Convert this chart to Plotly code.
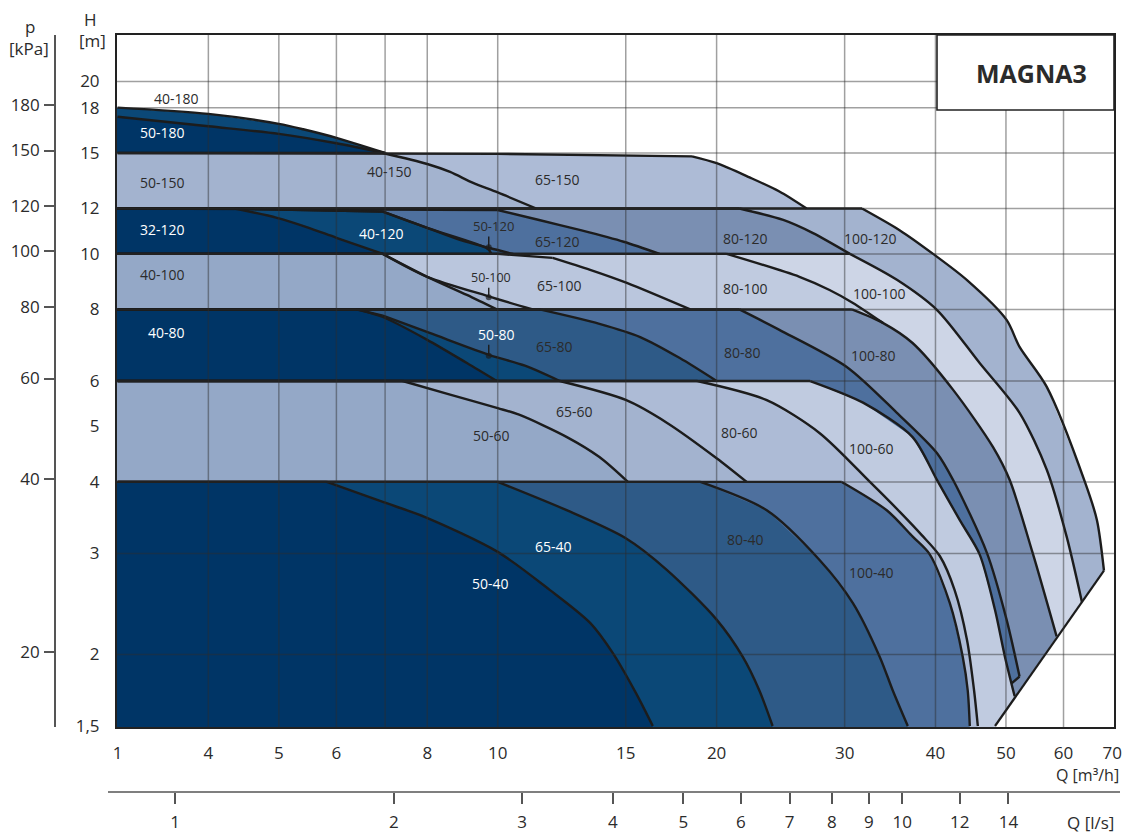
import math
import plotly.graph_objects as go

# ---------------- pump maximum curves: Q [m3/h], H [m] ----------------
Q_40_180 = [3, 4.0, 5.0, 5.4, 6.0, 7.0]
H_40_180 = [18, 17.55, 16.86, 16.5, 15.94, 15]
Q_50_180 = [3, 4.0, 5.0, 6.0, 7.0]
H_50_180 = [17.35, 16.7, 16.2, 15.6, 15]

Q_50_150 = [3, 6.95, 8.0, 8.6, 9.25, 10.0, 11.3]
H_50_150 = [15, 15, 14.35, 13.9, 13.3, 12.8, 12]
Q_65_150 = [3, 10, 18.5, 20, 22.2, 24.4, 26.6]
H_65_150 = [15, 14.95, 14.8, 14.4, 13.6, 12.85, 12]

Q_32_120 = [3, 4.35, 4.97, 5.46, 6.0, 6.95]
H_32_120 = [12, 12, 11.56, 11.14, 10.67, 10]
Q_40_120 = [3, 4.35, 6.95, 8.0, 9.7, 9.8]
H_40_120 = [12, 12, 11.85, 11.1, 10.2, 10]
Q_50_120 = [3, 4.35, 6.95, 8.0, 8.87, 9.75, 10.5]
H_50_120 = [12, 12, 11.85, 11.1, 10.58, 10.24, 10]
Q_65_120 = [3, 10, 11.4, 13.0, 14.9, 16.7]
H_65_120 = [12, 11.93, 11.46, 11.0, 10.5, 10]
Q_80_120 = [3, 21.5, 24.7, 27.1, 30.5]
H_80_120 = [12, 12, 11.46, 10.88, 10]
Q_100_120 = [3, 31.7, 35.7, 39.7, 44.2, 50.1, 52.2, 56.9, 64.2, 66.7, 68.2]
H_100_120 = [12, 12, 11.0, 10, 9.0, 7.67, 6.88, 5.86, 4, 3.43, 2.8]

Q_40_100 = [3, 6.95, 8.0, 9.07, 9.97]
H_40_100 = [10, 10, 9.12, 8.48, 8]
Q_50_100 = [3, 6.95, 8.0, 9.69, 11.17]
H_50_100 = [10, 10, 9.12, 8.44, 8]
Q_65_100 = [3, 10, 11.9, 13.4, 15.05, 18.4]
H_65_100 = [10, 10, 9.84, 9.38, 8.9, 8]
Q_80_100 = [3, 20.65, 26.0, 28.6, 30.8, 33.85]
H_80_100 = [10, 10, 9.12, 8.65, 8.21, 7.58]
Q_100_100 = [3, 30.5, 35.4, 40.2, 46.0, 52.2, 56.9, 60.6, 63.6]
H_100_100 = [10, 10, 9.01, 7.98, 6.45, 5.28, 4.2, 3.21, 2.47]

Q_40_80 = [3, 6.4, 6.95, 8.0, 9.07, 9.97]
H_40_80 = [8, 8, 7.76, 7.08, 6.45, 6]
Q_50_80 = [3, 6.4, 6.95, 8.06, 9.75, 10.9, 12.17]
H_50_80 = [8, 8, 7.8, 7.28, 6.66, 6.38, 6]
Q_65_80 = [3, 11.42, 13.8, 15.7, 17.8, 20]
H_65_80 = [8, 8, 7.55, 7.16, 6.58, 6]
Q_80_80 = [3, 21.5, 24.4, 30.2, 35.4, 40.2, 42.3, 47.06, 50.1, 52.2, 50.9]
H_80_80 = [8, 8, 7.37, 6.35, 5.28, 4.49, 4.03, 3.01, 2.30, 1.83, 1.78]
Q_100_80 = [3, 30.7, 33.85, 37.2, 42.3, 48.0, 50.6, 54.4, 58.7]
H_100_80 = [8, 8, 7.58, 6.99, 5.79, 4.6, 4.03, 3.01, 2.15]

Q_50_60 = [3, 7.4, 8.6, 10, 10.7, 12.45, 13.8, 15.1]
H_50_60 = [6, 6, 5.68, 5.38, 5.24, 4.79, 4.42, 4]
Q_65_60 = [3, 12.17, 15, 17.1, 20, 22]
H_65_60 = [6, 6, 5.56, 5.07, 4.4, 4]
Q_80_60 = [3, 18.8, 23.4, 27.7, 32.5, 35.7, 38.3, 40.55, 42.5, 44.2, 45.2, 45.74]
H_80_60 = [6, 6, 5.56, 4.87, 4, 3.55, 3.23, 2.97, 2.59, 2.12, 1.73, 1.5]
Q_100_60 = [3, 26.9, 31.8, 37.2, 40.2, 43.2, 46.0, 48.3, 49.8, 51.4]
H_100_60 = [6, 6, 5.5, 4.79, 4.03, 3.43, 2.99, 2.39, 1.99, 1.69]

Q_50_40 = [3, 5.82, 6.95, 7.96, 10, 11.8, 13.4, 14.4, 15.5, 16.34]
H_50_40 = [4, 4, 3.69, 3.47, 3.02, 2.59, 2.27, 2.01, 1.71, 1.5]
Q_65_40 = [3, 10, 12.44, 15, 17.08, 20, 21.73, 22.9, 23.88]
H_65_40 = [4, 4, 3.57, 3.19, 2.81, 2.30, 1.98, 1.73, 1.5]
Q_80_40 = [3, 19, 23.44, 27.73, 30.78, 33.53, 34.94, 36.64]
H_80_40 = [4, 4, 3.57, 2.92, 2.46, 1.98, 1.73, 1.5]
Q_100_40 = [3, 29.73, 34.28, 37.22, 39.28, 41.85, 43.61, 44.3, 44.59]
H_100_40 = [4, 4, 3.57, 3.21, 2.99, 2.46, 1.98, 1.73, 1.5]

# lower-right limit line
DIAG_Q = [68.2, 48.3]
DIAG_H = [2.8, 1.5]

# axes values
Q_TICKS = [3, 4, 5, 6, 8, 10, 15, 20, 30, 40, 50, 60, 70]
Q_TICK_TEXT = ["1", "4", "5", "6", "8", "10", "15", "20", "30", "40", "50", "60", "70"]
Q_GRID = [4, 5, 6, 7, 8, 10, 15, 20, 30, 40, 50, 60]
H_TICKS = [1.5, 2, 3, 4, 5, 6, 8, 10, 12, 15, 18, 20]
H_TICK_TEXT = ["1,5", "2", "3", "4", "5", "6", "8", "10", "12", "15", "18", "20"]
H_GRID = [2, 3, 4, 6, 8, 10, 12, 15, 18, 20]
P_TICKS = [20, 40, 60, 80, 100, 120, 150, 180]
LS_TICKS = [1, 2, 3, 4, 5, 6, 7, 8, 9, 10, 12, 14]
Q_RANGE = [2.995, 70.4]
H_RANGE = [1.494, 24.1]
KPA_PER_M = 9.9
M3H_PER_LS = 3.6

# ---------------- styling / draw order (back to front) ----------------
C1, C2, C3, C4 = "#003566", "#0b4877", "#2e5a87", "#4e709e"
C5, C6, C7, C8, C9, C10, C11 = "#7a8fb2", "#94a8c7", "#a3b3cf", "#adbbd6", "#bac6dd", "#c0cbe0", "#cdd5e6"
PUMPS = [
    ("40-180", Q_40_180, H_40_180, C2, "bottom"),
    ("50-180", Q_50_180, H_50_180, C1, "bottom"),
    ("65-150", Q_65_150, H_65_150, C8, "bottom"),
    ("50-150", Q_50_150, H_50_150, C7, "bottom"),
    ("100-120", Q_100_120, H_100_120, C7, "diag"),
    ("80-120", Q_80_120, H_80_120, C5, "bottom"),
    ("65-120", Q_65_120, H_65_120, C4, "bottom"),
    ("50-120", Q_50_120, H_50_120, C3, "bottom"),
    ("40-120", Q_40_120, H_40_120, C2, "bottom"),
    ("32-120", Q_32_120, H_32_120, C1, "bottom"),
    ("100-100", Q_100_100, H_100_100, C11, "diag"),
    ("80-100", Q_80_100, H_80_100, C10, "bottom"),
    ("65-100", Q_65_100, H_65_100, C9, "bottom"),
    ("50-100", Q_50_100, H_50_100, C7, "bottom"),
    ("40-100", Q_40_100, H_40_100, C6, "bottom"),
    ("100-80", Q_100_80, H_100_80, C5, "diag"),
    ("80-80", Q_80_80, H_80_80, C4, "cap"),
    ("65-80", Q_65_80, H_65_80, C3, "bottom"),
    ("50-80", Q_50_80, H_50_80, C2, "bottom"),
    ("40-80", Q_40_80, H_40_80, C1, "bottom"),
    ("100-60", Q_100_60, H_100_60, C10, "diag"),
    ("80-60", Q_80_60, H_80_60, C8, "bottom"),
    ("65-60", Q_65_60, H_65_60, C7, "bottom"),
    ("50-60", Q_50_60, H_50_60, C6, "bottom"),
    ("100-40", Q_100_40, H_100_40, C4, "bottom"),
    ("80-40", Q_80_40, H_80_40, C3, "bottom"),
    ("65-40", Q_65_40, H_65_40, C2, "bottom"),
    ("50-40", Q_50_40, H_50_40, C1, "bottom"),
]

DARK, WHITE = "#2b2b2b", "#ffffff"
LABELS = [
    ("40-180", 3.62, 18.7, DARK, 14), ("50-180", 3.46, 16.26, WHITE, 14),
    ("50-150", 3.46, 13.3, DARK, 14), ("40-150", 7.1, 13.9, DARK, 14),
    ("65-150", 12.09, 13.46, DARK, 14),
    ("32-120", 3.46, 11.01, WHITE, 14), ("40-120", 6.92, 10.84, WHITE, 14),
    ("50-120", 9.87, 11.2, DARK, 13), ("65-120", 12.09, 10.5, DARK, 14),
    ("80-120", 21.94, 10.62, DARK, 14), ("100-120", 32.6, 10.62, DARK, 14),
    ("40-100", 3.46, 9.19, DARK, 14), ("50-100", 9.8, 9.08, DARK, 12.5),
    ("65-100", 12.17, 8.79, DARK, 14), ("80-100", 21.9, 8.69, DARK, 14),
    ("100-100", 33.5, 8.53, DARK, 14),
    ("40-80", 3.5, 7.28, WHITE, 14), ("50-80", 9.95, 7.22, WHITE, 14),
    ("65-80", 11.98, 6.88, DARK, 14), ("80-80", 21.73, 6.74, DARK, 14),
    ("100-80", 32.9, 6.66, DARK, 14),
    ("65-60", 12.76, 5.3, DARK, 14), ("50-60", 9.81, 4.83, DARK, 14),
    ("80-60", 21.5, 4.87, DARK, 14), ("100-60", 32.7, 4.57, DARK, 14),
    ("65-40", 11.94, 3.09, WHITE, 14), ("50-40", 9.78, 2.66, WHITE, 14),
    ("80-40", 21.94, 3.17, DARK, 14), ("100-40", 32.7, 2.78, DARK, 14),
]
# small leader lines with dots (label -> curve)
LEADERS = [(9.72, 10.72, 10.27), (9.72, 8.73, 8.4), (9.72, 6.94, 6.64)]

# ---------------- layout geometry ----------------
W, HT = 1127, 833
ML, MR, MT, MB = 40, 13, 35, 20
PW, PH = W - ML - MR, HT - MT - MB


def px_x(px):
    return (px - ML) / PW


def px_y(py):
    return (HT - MB - py) / PH


LINE_COL = "#1c1c1c"
LINE_W = 2.4
fig = go.Figure()

# filled fields
for name, q, h, col, close in PUMPS:
    xs = [2.9, 2.9] + list(q)
    ys = [1.45, h[0]] + list(h)
    if close in ("diag", "cap"):
        xs += [DIAG_Q[-1], DIAG_Q[-1]]
        ys += [DIAG_H[-1], 1.45]
    else:
        xs += [q[-1]]
        ys += [1.45]
    fig.add_trace(go.Scatter(x=xs, y=ys, fill="toself", fillcolor=col, mode="none",
                             hoverinfo="skip", showlegend=False))


def add_line(xs, ys, shape="linear", width=LINE_W):
    fig.add_trace(go.Scatter(x=xs, y=ys, mode="lines",
                             line=dict(color=LINE_COL, width=width, shape=shape, smoothing=0.8),
                             hoverinfo="skip", showlegend=False))


# curve outlines: straight top part, smooth falling part
for name, q, h, col, close in PUMPS:
    k = 0
    for i in range(len(h)):
        if h[i] >= h[0] - 0.2:
            k = i
        else:
            break
    end = len(q) - 1 if close == "cap" else len(q)
    if k > 0:
        add_line(q[:k + 1], h[:k + 1])
    add_line(q[k:end], h[k:end], shape="spline")
    if close == "cap":
        add_line(q[-2:], h[-2:])
add_line(DIAG_Q, DIAG_H, width=2.2)

# leaders
for q, h0, h1 in LEADERS:
    fig.add_trace(go.Scatter(x=[q, q], y=[h0, h1], mode="lines+markers",
                             line=dict(color=LINE_COL, width=1.4),
                             marker=dict(size=[0, 6], color=LINE_COL, line=dict(width=0)),
                             hoverinfo="skip", showlegend=False))

# grid lines on top of the fields
gx, gy = [], []
for q in Q_GRID:
    gx += [q, q, None]
    gy += [H_RANGE[0], H_RANGE[1], None]
for h in H_GRID:
    gx += [Q_RANGE[0], Q_RANGE[1], None]
    gy += [h, h, None]
fig.add_trace(go.Scatter(x=gx, y=gy, mode="lines", line=dict(color="rgba(45,45,45,0.45)", width=1.5),
                         hoverinfo="skip", showlegend=False, connectgaps=False))

# helpers so the secondary axes are drawn
fig.add_trace(go.Scatter(x=[2], y=[5], xaxis="x2", yaxis="y", mode="markers",
                         marker=dict(opacity=0), hoverinfo="skip", showlegend=False))
fig.add_trace(go.Scatter(x=[10], y=[50], xaxis="x", yaxis="y2", mode="markers",
                         marker=dict(opacity=0), hoverinfo="skip", showlegend=False))

FONT = "Open Sans"
TXT = "#2b2b2b"
AX_COL = "#555555"

annotations = []
for text, q, h, col, size in LABELS:
    annotations.append(dict(x=math.log10(q), y=math.log10(h), xref="x", yref="y", text=text,
                            showarrow=False, font=dict(family=FONT, size=size, color=col)))


def paper_text(text, px, py, size=16, anchor="center", bold=False):
    return dict(x=px_x(px), y=px_y(py), xref="paper", yref="paper",
                text=(f"<b>{text}</b>" if bold else text),
                showarrow=False, xanchor=anchor, yanchor="middle",
                font=dict(family=FONT, size=size, color=TXT))


annotations += [
    paper_text("p", 30, 27, 17),
    paper_text("[kPa]", 29, 49, 17),
    paper_text("H", 90, 19, 17),
    paper_text("[m]", 92, 41, 17),
    paper_text("Q [m³/h]", 1121, 775, 16, anchor="right"),
    paper_text("Q [l/s]", 1116, 822, 17, anchor="right"),
    paper_text("MAGNA3", 1031, 73, 25, bold=True),
]

shapes = [
    dict(type="rect", xref="paper", yref="paper", x0=px_x(937), x1=px_x(1114), y0=px_y(110), y1=px_y(35),
         fillcolor="white", line=dict(color="#222222", width=1.6), layer="above"),
    dict(type="line", xref="paper", yref="paper", x0=px_x(108), x1=px_x(1120), y0=px_y(792), y1=px_y(792),
         line=dict(color=AX_COL, width=1.6), layer="above"),
]

fig.update_layout(
    width=W, height=HT,
    margin=dict(l=ML, r=MR, t=MT, b=MB, autoexpand=False),
    paper_bgcolor="white", plot_bgcolor="white",
    showlegend=False,
    font=dict(family=FONT, color=TXT),
    annotations=annotations, shapes=shapes,
    xaxis=dict(type="log", domain=[px_x(117), 1.0], range=[math.log10(Q_RANGE[0]), math.log10(Q_RANGE[1])],
               tickvals=Q_TICKS, ticktext=Q_TICK_TEXT, showgrid=False, zeroline=False,
               showline=True, mirror=True, linecolor="#222222", linewidth=2,
               ticks="", ticklabelstandoff=10, tickfont=dict(size=17, color=TXT, family=FONT)),
    yaxis=dict(type="log", domain=[px_y(727), 1.0], range=[math.log10(H_RANGE[0]), math.log10(H_RANGE[1])],
               tickvals=H_TICKS, ticktext=H_TICK_TEXT, showgrid=False, zeroline=False,
               showline=True, mirror=True, linecolor="#222222", linewidth=2,
               ticks="", ticklabelstandoff=12, tickfont=dict(size=17, color=TXT, family=FONT)),
    yaxis2=dict(type="log", overlaying="y", anchor="free", position=px_x(55), side="left",
                range=[math.log10(H_RANGE[0] * KPA_PER_M), math.log10(H_RANGE[1] * KPA_PER_M)],
                tickvals=P_TICKS, ticktext=[str(p) for p in P_TICKS], showgrid=False, zeroline=False,
                showline=True, linecolor=AX_COL, linewidth=1.6, ticks="outside", ticklen=10,
                tickwidth=1.6, tickcolor=AX_COL, ticklabelstandoff=1,
                tickfont=dict(size=17, color=TXT, family=FONT)),
    xaxis2=dict(type="log", overlaying="x", anchor="free", position=px_y(792), side="bottom",
                range=[math.log10(Q_RANGE[0] / M3H_PER_LS), math.log10(Q_RANGE[1] / M3H_PER_LS)],
                tickvals=LS_TICKS, ticktext=[str(v) for v in LS_TICKS], showgrid=False, zeroline=False,
                showline=False, ticks="outside", ticklen=11, tickwidth=1.6, tickcolor=AX_COL,
                ticklabelstandoff=4, tickfont=dict(size=17, color=TXT, family=FONT)),
)

fig.write_html("out.html", config={"displayModeBar": False},
               post_script="document.body.style.margin='0px';document.body.style.overflow='hidden';")
